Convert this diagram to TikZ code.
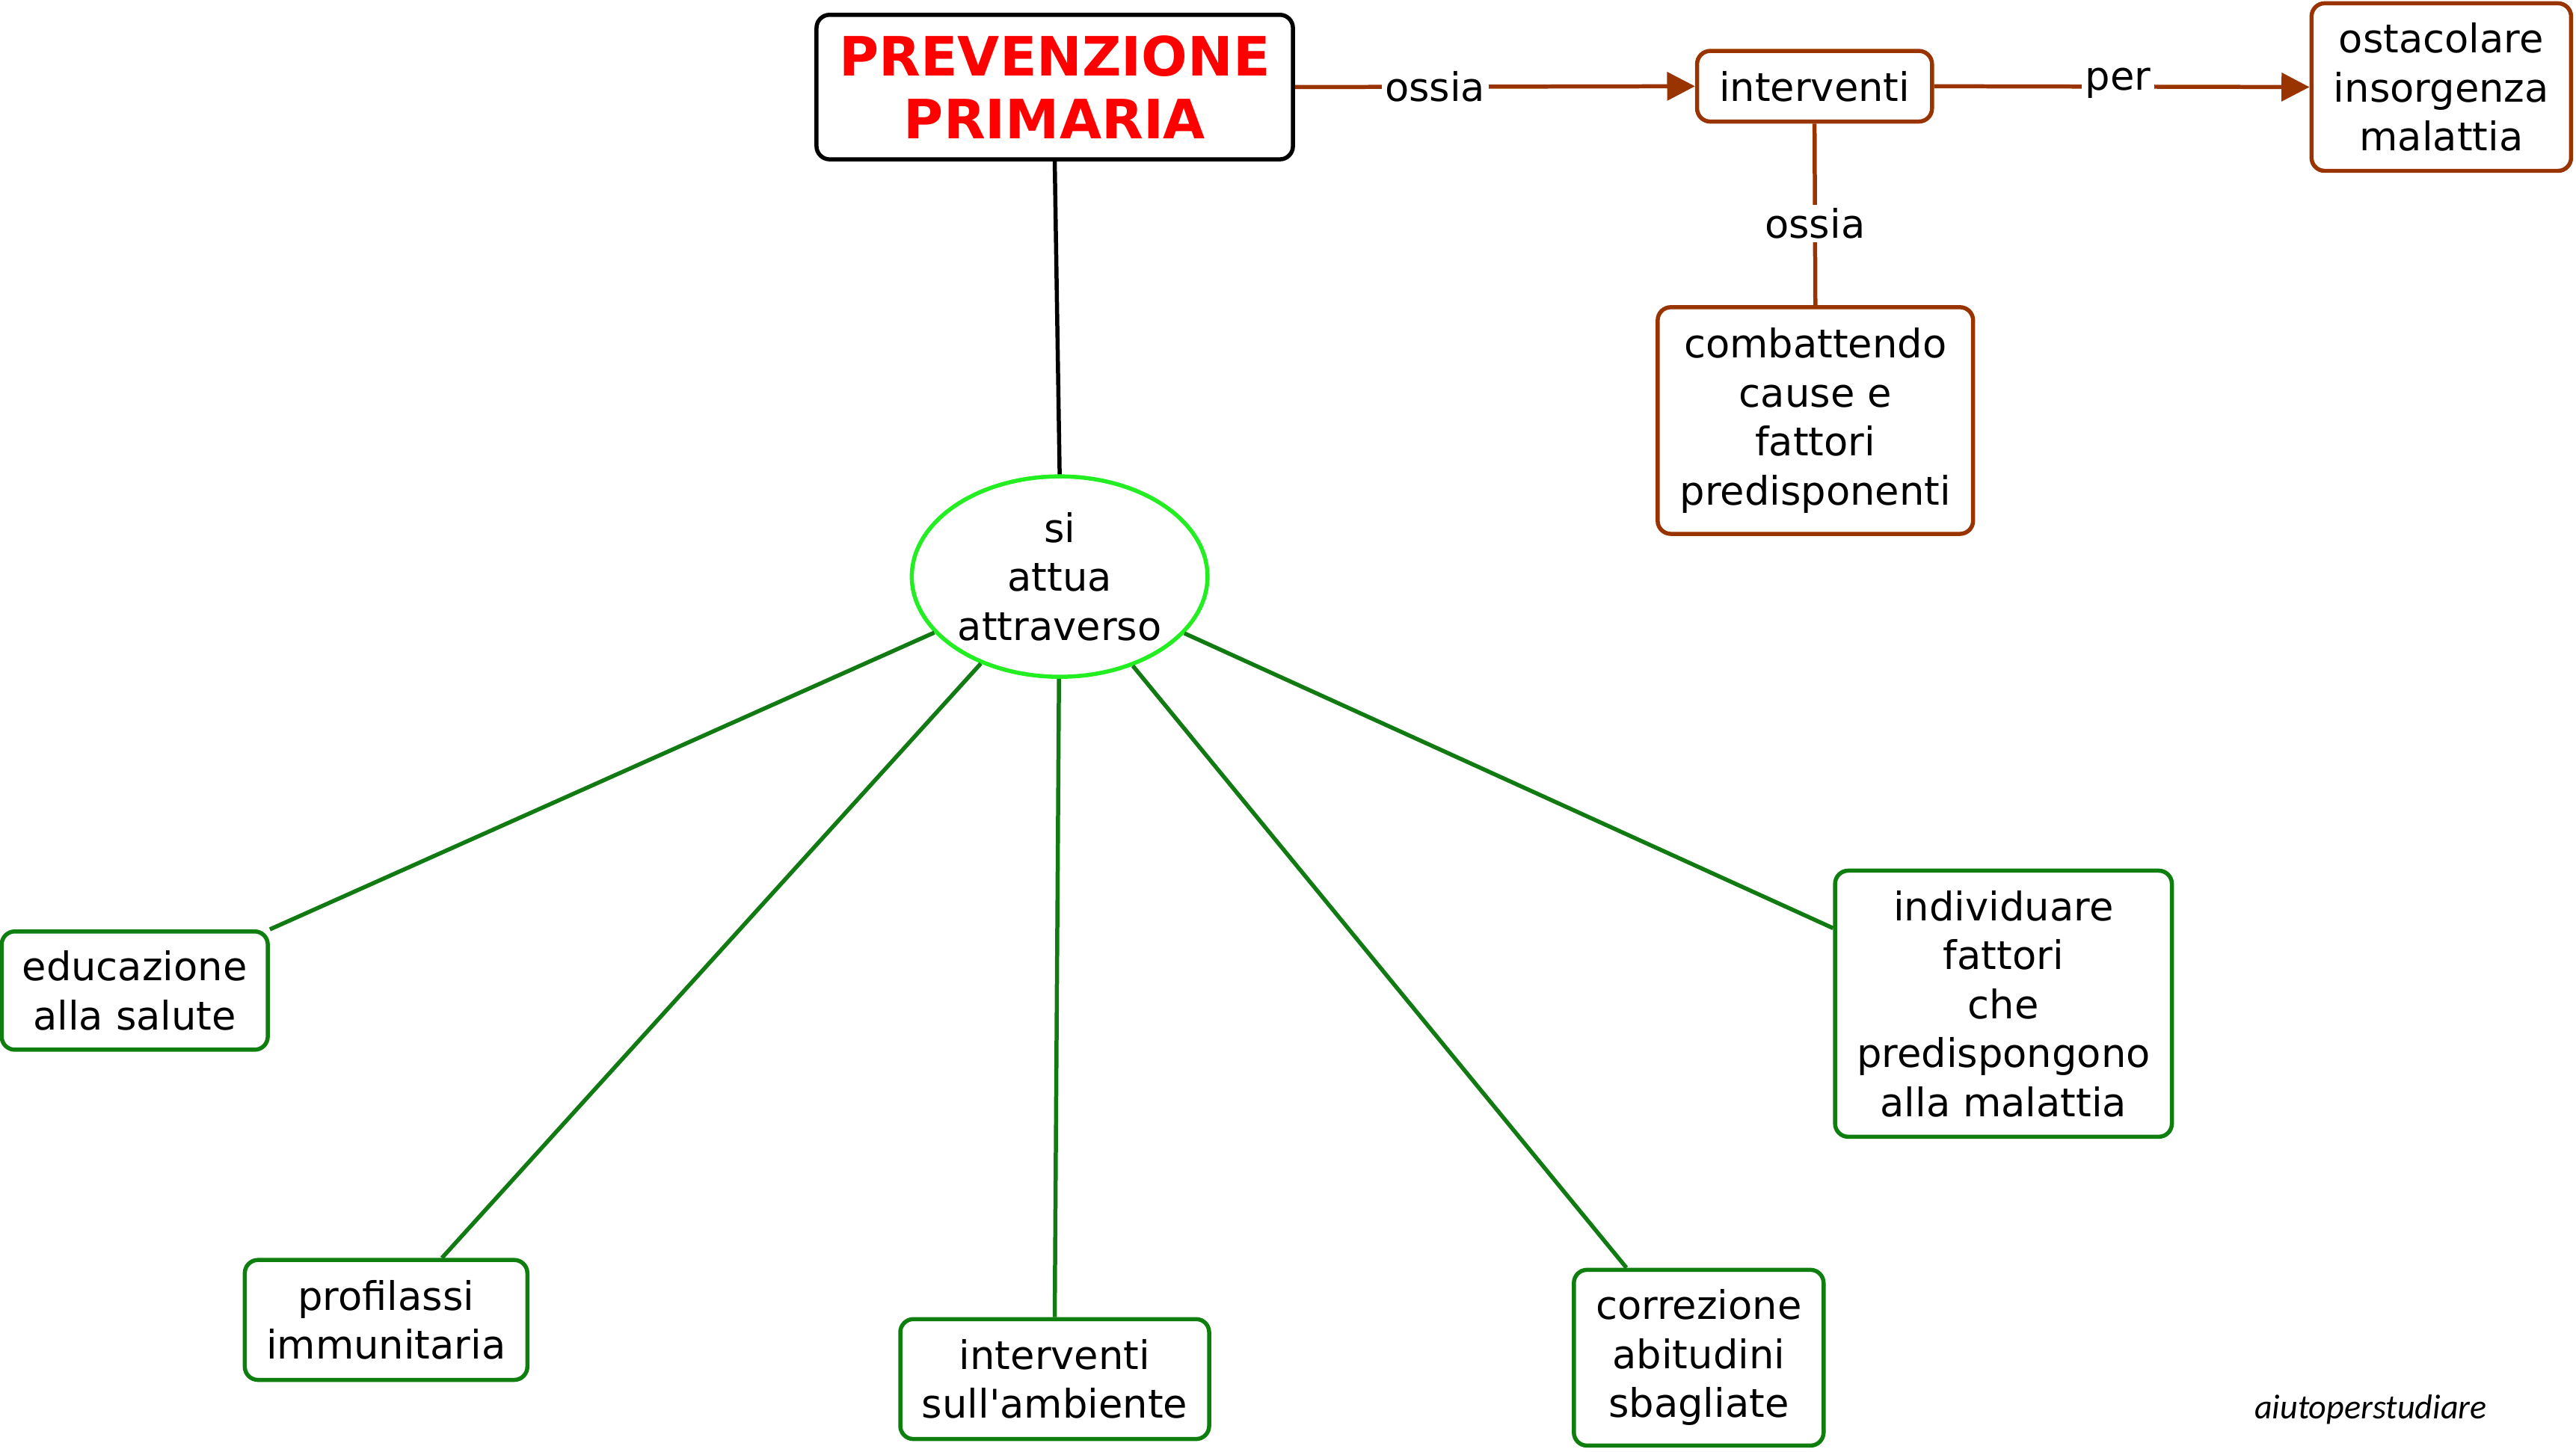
\documentclass[tikz,border=0pt]{standalone}
\usepackage{fontspec}
\setmainfont{DejaVu Sans}[Ligatures=TeXOff]
\newfontfamily\wmfont{Carlito}
\usetikzlibrary{shapes.geometric,arrows.meta}
\definecolor{brownc}{HTML}{993300}
\definecolor{boxgreen}{HTML}{0E7F0E}
\definecolor{linegreen}{HTML}{127A12}
\definecolor{limec}{HTML}{22EE22}
\tikzset{
  base/.style={rectangle, rounded corners=8pt, line width=2.5pt, fill=white,
    inner sep=0pt, align=center, font=\fontsize{24}{29.8}\selectfont},
  titlebox/.style={base, draw=black, text=red,
    font=\bfseries\fontsize{33}{38}\selectfont},
  brownbox/.style={base, draw=brownc},
  greenbox/.style={base, draw=boxgreen},
  ellnode/.style={ellipse, draw=limec, line width=2.5pt, fill=white, inner sep=0pt,
    align=center, font=\fontsize{24}{29.8}\selectfont},
  brownarrow/.style={draw=brownc, line width=2.5pt, -{Triangle[length=17pt,width=17pt]}},
  brownline/.style={draw=brownc, line width=2.5pt},
  greenline/.style={draw=linegreen, line width=2.5pt},
  lbl/.style={fill=white, inner sep=2pt, font=\fontsize{24}{29.8}\selectfont}
}
\begin{document}
\begin{tikzpicture}[x=1pt,y=-1pt]
\useasboundingbox[fill=white] (0,0) rectangle (1568,883.5);
% nodes
\node[titlebox, minimum width=290pt, minimum height=88pt] (title) at (642,53) {PREVENZIONE\\PRIMARIA};
\node[brownbox, minimum width=143pt, minimum height=43pt] (interv) at (1104.5,52.5) {interventi};
\node[brownbox, minimum width=158pt, minimum height=102pt] (ostac) at (1486,53) {ostacolare\\insorgenza\\malattia};
\node[brownbox, minimum width=192pt, minimum height=138pt] (comb) at (1105,256) {combattendo\\cause e\\fattori\\predisponenti};
\node[ellnode, minimum width=180pt, minimum height=122pt] (ell) at (645,351) {si\\attua\\attraverso};
\node[greenbox, minimum width=162pt, minimum height=72pt] (educ) at (82,603) {educazione\\alla salute};
\node[greenbox, minimum width=172pt, minimum height=73pt] (prof) at (235,803.5) {profilassi\\immunitaria};
\node[greenbox, minimum width=188pt, minimum height=73pt] (amb) at (642,839.5) {interventi\\sull'ambiente};
\node[greenbox, minimum width=152pt, minimum height=107pt] (corr) at (1034,826.5) {correzione\\abitudini\\sbagliate};
\node[greenbox, minimum width=205pt, minimum height=162pt] (ind) at (1219.5,611) {individuare\\fattori\\che\\predispongono\\alla malattia};
\node[font=\wmfont\itshape\fontsize{21}{24}\selectfont] (wm) at (1443,858) {aiutoperstudiare};
% connectors
\draw[line width=2.5pt, black] (title.south) -- (ell.north);
\draw[brownarrow] (title.east) -- node[lbl, pos=0.35] {ossia} (interv.west);
\draw[brownarrow] (interv.east) -- node[lbl, pos=0.49, yshift=2pt] {per} (ostac.west);
\draw[brownline] (interv.south) -- node[lbl, pos=0.55] {ossia} (comb.north);
\draw[greenline] (ell) -- (educ.north east);
\draw[greenline] (ell) -- ([xshift=34pt]prof.north);
\draw[greenline] (ell) -- (amb.north);
\draw[greenline] (ell) -- ([xshift=-44pt]corr.north);
\draw[greenline] (ell) -- ([yshift=46pt]ind.west);
\end{tikzpicture}
\end{document}
